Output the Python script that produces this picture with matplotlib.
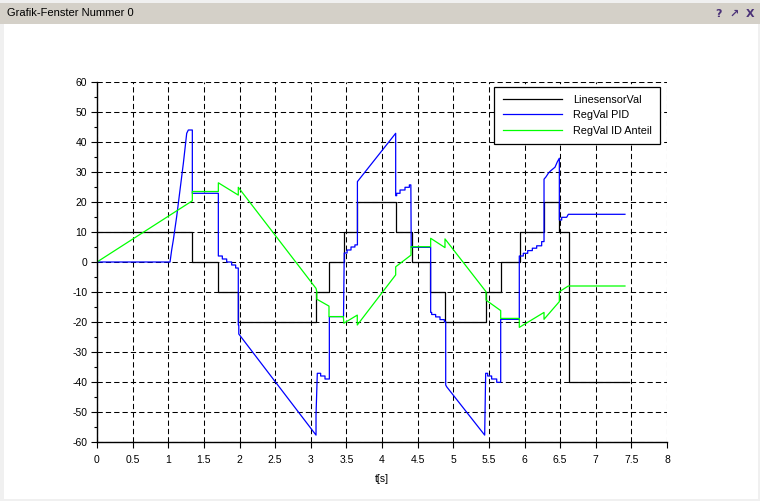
import matplotlib
matplotlib.use('Agg')
import matplotlib.pyplot as plt
from matplotlib.patches import Rectangle
from matplotlib.ticker import MultipleLocator

plt.rcParams['font.family'] = ['Liberation Sans', 'DejaVu Sans']
plt.rcParams['lines.scale_dashes'] = False

# ---------------- data ----------------
sensor_t = [0, 1.34, 1.70, 1.98, 3.08, 3.26, 3.47, 3.65, 4.19, 4.42, 4.67,
            4.89, 5.46, 5.67, 5.93, 6.27, 6.49, 6.62, 7.46]
sensor_v = [10, 0, -10, -20, -10, 0, 10, 20, 10, 0, -10,
            -20, -10, 0, 10, 20, 10, -40, -40]

pid_t = [0, 1.025, 1.048, 1.071, 1.118, 1.165, 1.212, 1.259, 1.282, 1.338, 1.338,
         1.703, 1.703, 1.759, 1.759, 1.82, 1.82, 1.89, 1.89, 1.946, 1.946, 1.983,
         1.983, 1.99, 1.99, 3.074, 3.074, 3.092, 3.139, 3.139, 3.2, 3.2, 3.261,
         3.261, 3.46, 3.47, 3.51, 3.51, 3.565, 3.565, 3.62, 3.62, 3.655, 3.655,
         4.192, 4.192, 4.206, 4.206, 4.253, 4.253, 4.323, 4.323, 4.384, 4.384,
         4.405, 4.41, 4.683, 4.683, 4.697, 4.697, 4.753, 4.753, 4.814, 4.814,
         4.875, 4.875, 4.894, 4.894, 4.908, 5.441, 5.455, 5.483, 5.483, 5.539,
         5.539, 5.61, 5.61, 5.666, 5.666, 5.927, 5.927, 5.983, 5.983, 6.045,
         6.045, 6.11, 6.11, 6.171, 6.171, 6.241, 6.241, 6.274, 6.274, 6.302,
         6.335, 6.367, 6.428, 6.461, 6.489, 6.489, 6.522, 6.522, 6.592, 6.615,
         7.41]
pid_v = [0, 0, 4, 7.3, 15.1, 24, 32.9, 42.9, 44, 44, 22.9,
         22.9, 2, 2, 1, 1, 0, 0, -1, -1, -2, -2,
         -21, -21, -24, -57.7, -51, -37.1, -37.1, -38, -38, -39, -39,
         -18.2, -18.2, 3, 3, 4, 4, 5, 5, 5.7, 5.7, 26.8,
         42.9, 22.1, 22.1, 22.9, 22.9, 24, 24, 24.9, 24.9, 25.7,
         25.7, 4.9, 4.9, -16.8, -16.8, -17.5, -17.5, -18.3, -18.3, -19.2,
         -19.2, -19.9, -19.9, -41, -41.6, -57.7, -37.1, -37.1, -38, -38,
         -39, -39, -40.1, -40.1, -19.1, -19.1, 2, 2, 2.9, 2.9,
         3.8, 3.8, 4.6, 4.6, 5.4, 5.4, 6.8, 6.8, 27.6, 28.4,
         29.6, 30.4, 31.6, 33.4, 34.6, 14, 14, 14.9, 14.9, 15.9,
         15.9]

id_t = [0, 0, 1.338, 1.338, 1.703, 1.703, 1.983, 1.983, 3.074, 3.085, 3.085,
        3.256, 3.256, 3.457, 3.465, 3.653, 3.653, 4.192, 4.192, 4.407, 4.407,
        4.683, 4.683, 4.884, 4.884, 5.46, 5.46, 5.666, 5.666, 5.927, 5.927,
        6.274, 6.274, 6.489, 6.489, 6.615, 7.41]
id_v = [-5.4, 0, 20.4, 23.5, 23.5, 26.4, 22.3, 24.9, -8.8, -9.9, -12.4,
        -14.7, -18.2, -18.2, -20.4, -17.7, -21, -4.3, -1.6, 2.3, 5.1,
        5.1, 7.9, 4.8, 7.7, -9.9, -12.7, -16.2, -18.8, -18.8, -21.8,
        -16.8, -19.1, -13.2, -9.9, -8, -8]

series_labels = ['LinesensorVal', 'RegVal PID', 'RegVal ID Anteil']
x_label = 't[s]'
window_title = 'Grafik-Fenster Nummer 0'

# ---------------- figure ----------------
W, H = 760, 501
fig = plt.figure(figsize=(W / 100, H / 100), dpi=100, facecolor='white')

# window chrome
fig.patches.append(Rectangle((0, 0), 1, 1, transform=fig.transFigure,
                             facecolor='#f0f0f0', edgecolor='none', zorder=-3))
fig.patches.append(Rectangle((4 / W, 2 / H), (W - 6) / W, (H - 26) / H,
                             transform=fig.transFigure, facecolor='white',
                             edgecolor='none', zorder=-2))
fig.patches.append(Rectangle((0, (H - 24) / H), 1, 21 / H, transform=fig.transFigure,
                             facecolor='#d4d0c8', edgecolor='none', zorder=-1))
fig.text(7 / W, 1 - 13.5 / H, window_title, fontsize=8, color='black',
         ha='left', va='center')
for xp, s in [(718, '?'), (734, '\u2197'), (750, 'X')]:
    fig.text(xp / W, 1 - 14 / H, s, fontsize=8, fontweight='bold', color='#4b3278',
             ha='center', va='center', family=['DejaVu Sans'])

# axes
ax = fig.add_axes([97 / W, (H - 442) / H, 570 / W, 360 / H])
ax.set_facecolor('white')
ax.set_xlim(0, 8)
ax.set_ylim(-60, 60)
ax.xaxis.set_major_locator(MultipleLocator(0.5))
ax.yaxis.set_major_locator(MultipleLocator(10))
ax.yaxis.set_minor_locator(MultipleLocator(5))
ax.xaxis.set_major_formatter(matplotlib.ticker.FuncFormatter(lambda v, p: f'{v:g}'))
ax.yaxis.set_major_formatter(matplotlib.ticker.FuncFormatter(lambda v, p: f'{v:g}'))

for side in ['top', 'right']:
    ax.spines[side].set_visible(False)
for side in ['left', 'bottom']:
    ax.spines[side].set_linewidth(1.0)
    ax.spines[side].set_color('black')

ax.tick_params(axis='both', which='major', direction='out', length=4.5, width=0.8,
               labelsize=7.5, colors='black', pad=2.5)
ax.tick_params(axis='y', which='minor', direction='out', length=2.5, width=0.8)
ax.tick_params(axis='x', which='major', pad=5)

ax.grid(True, which='major', color='black', linestyle=(0, (3.8, 2.2)), linewidth=0.75)
ax.set_axisbelow(True)

ax.step(sensor_t, sensor_v, where='post', color='black', linewidth=0.9,
        label=series_labels[0])
ax.plot(pid_t, pid_v, color='#0000ff', linewidth=0.9, label=series_labels[1])
ax.plot(id_t, id_v, color='#00ff00', linewidth=0.9, label=series_labels[2])

ax.set_xlabel(x_label, fontsize=7.5, labelpad=6)

leg = ax.legend(loc='upper right', bbox_to_anchor=(1 - 7 / 570, 1 - 4.7 / 360),
                borderaxespad=0, fancybox=False, framealpha=1, edgecolor='black',
                fontsize=7.8, handlelength=5.5, handletextpad=1.0,
                labelspacing=0.5, borderpad=0.75)
leg.get_frame().set_linewidth(0.9)

fig.savefig('out.png', dpi=100, facecolor=fig.get_facecolor())
